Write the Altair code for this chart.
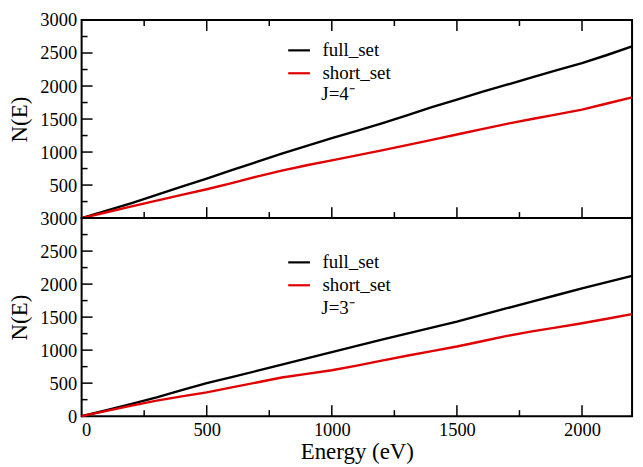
import altair as alt
import pandas as pd

# Cumulative level counts N(E) versus energy for two spin groups
energy = [0, 100, 200, 300, 400, 500, 600, 700, 800, 900, 1000, 1100,
          1200, 1300, 1400, 1500, 1600, 1700, 1800, 1900, 2000, 2100, 2200]

j4_full = [0, 112, 228, 350, 475, 598, 725, 850, 975, 1095, 1210, 1320,
           1435, 1555, 1680, 1794, 1910, 2020, 2130, 2240, 2347, 2470, 2600]
j4_short = [0, 88, 177, 265, 352, 437, 530, 628, 720, 800, 875, 950,
            1025, 1105, 1185, 1266, 1348, 1428, 1500, 1570, 1643, 1735, 1829]

j3_full = [0, 90, 185, 285, 395, 500, 590, 685, 780, 875, 970, 1065,
           1160, 1250, 1340, 1432, 1535, 1635, 1735, 1835, 1934, 2030, 2125]
j3_short = [0, 80, 160, 235, 300, 360, 435, 510, 585, 640, 695, 765,
            840, 915, 985, 1055, 1135, 1215, 1285, 1345, 1407, 1475, 1545]

series_names = ["full_set", "short_set"]
series_colors = ["#000000", "#e00000"]

x_major = [500, 1000, 1500, 2000]
x_minor = [250, 750, 1250, 1750]
y_major = [500, 1000, 1500, 2000, 2500]
y_minor = [250, 750, 1250, 1750, 2250, 2750]

FONT = "Liberation Serif"
WIDTH = 553
HEIGHT = 199
MAJOR = 11
MINOR = 6


def panel(full, short, label, label_pos, legend_y, y_labels, bottom):
    n = len(energy)
    df = pd.DataFrame({
        "Energy": energy * 2,
        "N": full + short,
        "set": [series_names[0]] * n + [series_names[1]] * n,
    })

    if bottom:
        x_axis = alt.Axis(values=[0, 500, 1000, 1500, 2000], format="d",
                          ticks=False, domain=False, grid=False,
                          labelFont=FONT, labelFontSize=18.5, labelPadding=4,
                          labelColor="black",
                          title="Energy (eV)", titleFont=FONT,
                          titleFontSize=23, titleFontWeight="normal",
                          titleColor="black", titlePadding=2)
    else:
        x_axis = alt.Axis(labels=False, ticks=False, domain=False,
                          grid=False, title=None)

    # the same encodings are reused by every layer so the axes merge cleanly
    x = alt.X("Energy:Q", scale=alt.Scale(domain=[0, 2200], nice=False),
              axis=x_axis)
    y = alt.Y("N:Q", scale=alt.Scale(domain=[0, 3000], nice=False),
              axis=alt.Axis(values=y_labels, format="d", ticks=False,
                            domain=False, grid=False, labelFont=FONT,
                            labelFontSize=18.5, labelPadding=5,
                            labelColor="black",
                            title="N(E)", titleFont=FONT, titleFontSize=23,
                            titleFontWeight="normal", titleColor="black",
                            titlePadding=8))

    lines = alt.Chart(df).mark_line(strokeWidth=2.4).encode(
        x=x, y=y,
        color=alt.Color(
            "set:N",
            scale=alt.Scale(domain=series_names, range=series_colors),
            legend=alt.Legend(orient="none", legendX=206, legendY=legend_y,
                              title=None, symbolType="stroke",
                              symbolSize=480, symbolStrokeWidth=2.2,
                              labelFont=FONT, labelFontSize=19,
                              labelColor="black", labelOffset=11,
                              rowPadding=0, padding=0),
        ),
    )

    def xticks(vals, length, at_top):
        d = pd.DataFrame({"Energy": vals})
        if at_top:
            yv, y2v = alt.value(0), alt.value(length)
        else:
            yv, y2v = alt.value(HEIGHT), alt.value(HEIGHT - length)
        return alt.Chart(d).mark_rule(color="black", strokeWidth=1.5).encode(
            x=x, y=yv, y2=y2v)

    def yticks(vals, length):
        d = pd.DataFrame({"N": vals})
        return alt.Chart(d).mark_rule(color="black", strokeWidth=1.5).encode(
            y=y, x=alt.value(0), x2=alt.value(length))

    layers = [lines,
              xticks(x_major, MAJOR, False), xticks(x_minor, MINOR, False),
              yticks(y_major, MAJOR), yticks(y_minor, MINOR)]
    if not bottom:
        layers += [xticks(x_major, MAJOR, True), xticks(x_minor, MINOR, True)]

    ann = pd.DataFrame({"Energy": [label_pos[0]], "N": [label_pos[1]],
                        "t": [label]})
    text = alt.Chart(ann).mark_text(align="left", baseline="middle",
                                    font=FONT, fontSize=19,
                                    color="black").encode(
        x=x, y=y, text="t:N")
    layers.append(text)

    return alt.layer(*layers).properties(width=WIDTH, height=HEIGHT)


top = panel(j4_full, j4_short, "J=4⁻", (958, 1880),
            18, [500, 1000, 1500, 2000, 2500, 3000], bottom=False)
bottom = panel(j3_full, j3_short, "J=3⁻", (958, 1640),
               32, [0, 500, 1000, 1500, 2000, 2500, 3000], bottom=True)

chart = alt.vconcat(top, bottom, spacing=0, bounds="flush").resolve_scale(
    color="independent"
).properties(
    padding={"left": 8, "top": 9, "right": 5, "bottom": 5},
    background="white",
).configure_view(
    stroke="black", strokeWidth=2
).configure_concat(spacing=0)

chart.save("out.html", embed_options={"renderer": "svg", "actions": False})
